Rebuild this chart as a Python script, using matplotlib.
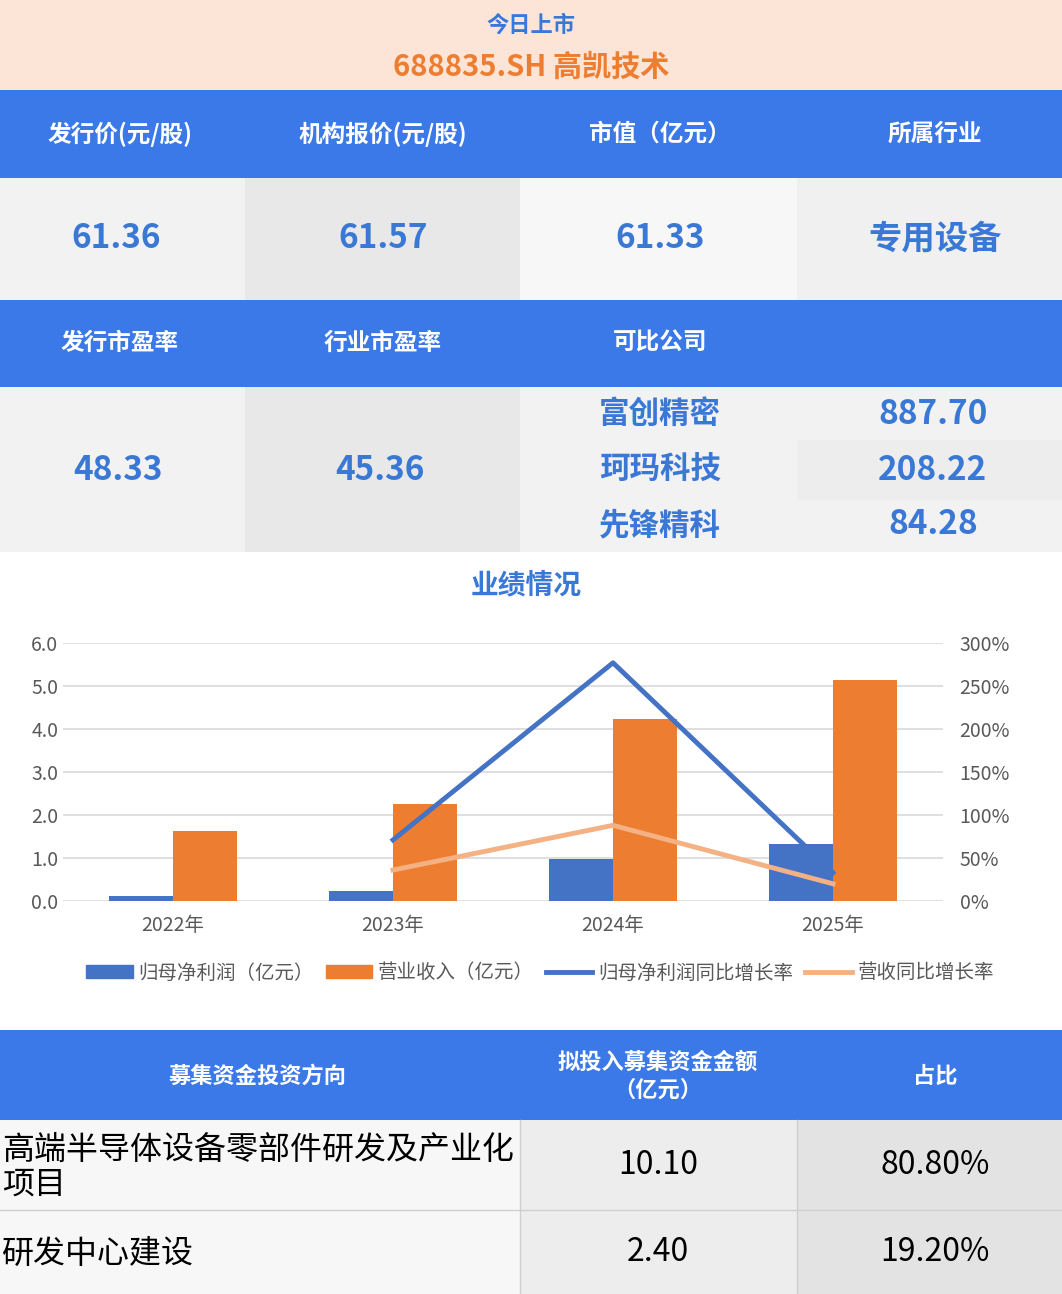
import matplotlib
matplotlib.use("Agg")
import matplotlib.pyplot as plt
from matplotlib.patches import Rectangle, Patch
from matplotlib.lines import Line2D
import numpy as np

plt.rcParams['font.family'] = ['Noto Sans CJK SC', 'DejaVu Sans']

years = ["2022年", "2023年", "2024年", "2025年"]
profit = [0.12, 0.24, 0.98, 1.32]
revenue = [1.63, 2.26, 4.24, 5.13]
profit_growth = [None, 71, 277, 33]
revenue_growth = [None, 36, 88, 20]
header1 = ["发行价(元/股)", "机构报价(元/股)", "市值（亿元）", "所属行业"]
values1 = ["61.36", "61.57", "61.33", "专用设备"]
header2 = ["发行市盈率", "行业市盈率", "可比公司", ""]
pe = ["48.33", "45.36"]
peers = ["富创精密", "珂玛科技", "先锋精科"]
peer_pe = ["887.70", "208.22", "84.28"]
fund_header = ["募集资金投资方向", "拟投入募集资金金额\n（亿元）", "占比"]
fund_items = ["高端半导体设备零部件研发及产业化\n项目", "研发中心建设"]
fund_amt = ["10.10", "2.40"]
fund_pct = ["80.80%", "19.20%"]

W, H = 1062, 1294
fig = plt.figure(figsize=(W/100, H/100), dpi=100)
bg = fig.add_axes([0, 0, 1, 1])
bg.set_xlim(0, W); bg.set_ylim(H, 0); bg.axis('off')
BLUE = "#3B78E8"; TXT = "#3A78D6"; ORANGE = "#ED7D31"

def rect(x0, y0, x1, y1, c):
    bg.add_patch(Rectangle((x0, y0), x1-x0, y1-y0, color=c, lw=0))

rect(0, 0, W, 90, "#FCE4D6")
bg.text(531, 25, "今日上市", ha='center', va='center', color=TXT, fontsize=16, fontweight='bold')
bg.text(531, 67, "688835.SH 高凯技术", ha='center', va='center', color=ORANGE, fontsize=21, fontweight='bold')

cx = [120, 383, 660, 935]
bnd = [0, 245, 520, 797, W]
rect(0, 90, W, 178, BLUE)
for x, t in zip(cx, header1):
    bg.text(x, 134, t, ha='center', va='center', color='white', fontsize=17, fontweight='bold')
cols = ["#F2F2F2", "#E8E8E8", "#F7F7F7", "#F0F0F0"]
for i in range(4):
    rect(bnd[i], 178, bnd[i+1], 300, cols[i])
    bg.text(cx[i] if i != 0 else 116, 239, values1[i], ha='center', va='center', color=TXT, fontsize=24, fontweight='bold')
rect(0, 300, W, 387, BLUE)
for x, t in zip(cx, header2):
    bg.text(x, 343, t, ha='center', va='center', color='white', fontsize=17, fontweight='bold')
cols2 = ["#F2F2F2", "#E8E8E8", "#F2F2F2", "#F2F2F2"]
for i in range(4):
    rect(bnd[i], 387, bnd[i+1], 552, cols2[i])
rect(797, 440, W, 500, "#EDEDED")
bg.text(118, 470, pe[0], ha='center', va='center', color=TXT, fontsize=24, fontweight='bold')
bg.text(380, 470, pe[1], ha='center', va='center', color=TXT, fontsize=24, fontweight='bold')
for j, y in enumerate([414, 470, 525]):
    bg.text(660, y, peers[j], ha='center', va='center', color=TXT, fontsize=22, fontweight='bold')
    bg.text(933, y, peer_pe[j], ha='center', va='center', color=TXT, fontsize=24, fontweight='bold')

bg.text(526, 585, "业绩情况", ha='center', va='center', color=TXT, fontsize=20, fontweight='bold')

rect(0, 1030, W, 1120, BLUE)
fx = [258, 658, 935]
for x, t in zip(fx, fund_header):
    bg.text(x, 1076, t, ha='center', va='center', color='white', fontsize=16, fontweight='bold', linespacing=1.3)
rows = [(1120, 1210), (1210, 1294)]
fb = [0, 520, 797, W]
fc = ["#F7F7F7", "#EDEDED", "#E3E3E3"]
for r, (y0, y1) in enumerate(rows):
    for i in range(3):
        rect(fb[i], y0, fb[i+1], y1, fc[i])
    ym = (y0 + y1) / 2
    bg.text(2, ym + 2, fund_items[r], ha='left', va='center', color='black', fontsize=23, linespacing=1.1)
    bg.text(658, ym, fund_amt[r], ha='center', va='center', color='black', fontsize=23)
    bg.text(935, ym, fund_pct[r], ha='center', va='center', color='black', fontsize=23)
for x in [520, 797]:
    bg.plot([x, x], [1120, H], color='#CFCFCF', lw=1)
bg.plot([0, W], [1210, 1210], color='#CFCFCF', lw=1)

# chart
ax = fig.add_axes([63/W, 1-901/H, (943-63)/W, (901-643)/H])
x = np.arange(len(years))
bw = 0.29
ax.bar(x - bw/2, profit, bw, color="#4472C4", zorder=2)
ax.bar(x + bw/2, revenue, bw, color=ORANGE, zorder=2)
ax.set_ylim(0, 6); ax.set_yticks(np.arange(0, 6.1, 1))
ax.set_yticklabels([f"{v:.1f}" for v in np.arange(0, 6.1, 1)])
ax.set_xlim(-0.5, 3.5)
ax.set_xticks(x); ax.set_xticklabels(years)
ax.grid(axis='y', color='#D9D9D9', lw=1.2, zorder=0)
for s in ax.spines.values(): s.set_visible(False)
ax.tick_params(length=0, labelsize=14, colors='#595959')
ax.tick_params(axis='x', pad=10)
ax2 = ax.twinx()
ax2.set_ylim(0, 300); ax2.set_yticks(range(0, 301, 50))
ax2.set_yticklabels([f"{v}%" for v in range(0, 301, 50)])
for s in ax2.spines.values(): s.set_visible(False)
ax2.tick_params(length=0, labelsize=14, colors='#595959', pad=12)
ax2.plot(x[1:], profit_growth[1:], color="#4472C4", lw=3.5)
ax2.plot(x[1:], revenue_growth[1:], color="#F4B183", lw=3.5)

handles = [Patch(color="#4472C4"), Patch(color=ORANGE),
           Line2D([], [], color="#4472C4", lw=3.5), Line2D([], [], color="#F4B183", lw=3.5)]
labels = ["归母净利润（亿元）", "营业收入（亿元）", "归母净利润同比增长率", "营收同比增长率"]
fig.legend(handles, labels, loc='center', bbox_to_anchor=(540/W, 1-973/H), ncol=4, frameon=False,
           fontsize=14, handlelength=2.4, handletextpad=0.3, columnspacing=0.6,
           labelcolor='#595959', handleheight=0.6)

fig.savefig("out.png", dpi=100)
